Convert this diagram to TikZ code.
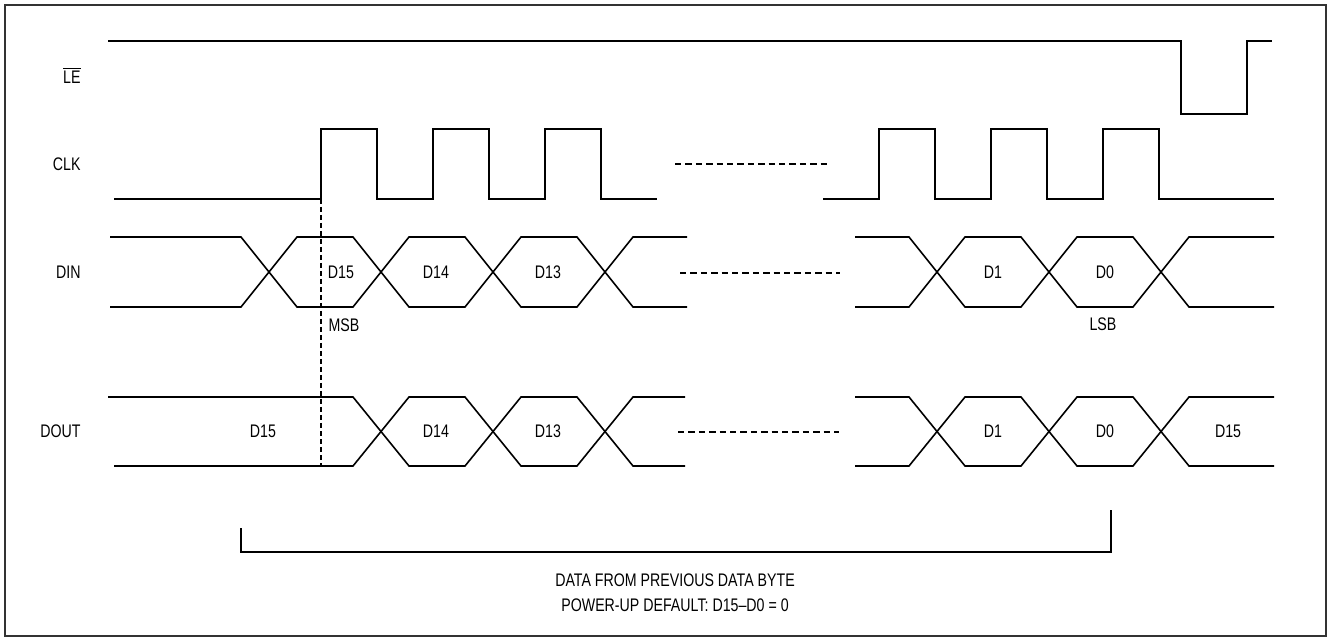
\documentclass[tikz,border=0pt]{standalone}
\usepackage{fontspec}
\setmainfont{Liberation Sans}[FakeStretch=0.78]
\usepackage{tikz}
\usetikzlibrary{positioning}
\tikzstyle{wave} = [line width=0.8pt, line join=miter]
\tikzstyle{gap} = [line width=0.8pt, dash pattern=on 3.2pt off 2pt]
\tikzstyle{frame} = [line width=1.2pt, draw=black!80]
\tikzstyle{lbl} = [inner sep=0pt, font=\fontsize{9.1}{12.5}\selectfont]

\begin{document}
\begin{tikzpicture}[x=0.5pt, y=-0.5pt]
    \useasboundingbox (0,0) rectangle (1331,640);
    \draw [frame] (5,5) rectangle (1326,636);

    % Signal names
    \node (le) [lbl, anchor=east] at (81,75) {$\overline{\mbox{LE}}$};
    \node (clk) [lbl, anchor=east] at (81,164) {CLK};
    \node (din) [lbl, anchor=east] at (81,272) {DIN};
    \node (dout) [lbl, anchor=east] at (81,431) {DOUT};

    % LE
    \draw [wave] (108,41) -- (1181,41) -- (1181,114) -- (1247,114) -- (1247,41) -- (1272,41);

    % CLK
    \draw [wave] (114,199) -- (321,199) -- (321,129) -- (377,129) -- (377,199) -- (433,199) -- (433,129)
        -- (489,129) -- (489,199) -- (545,199) -- (545,129) -- (601,129) -- (601,199) -- (657,199);
    \draw [gap] (675,164) -- (830,164);
    \draw [wave] (823,199) -- (879,199) -- (879,129) -- (935,129) -- (935,199) -- (991,199) -- (991,129)
        -- (1047,129) -- (1047,199) -- (1103,199) -- (1103,129) -- (1159,129) -- (1159,199) -- (1274,199);

    % DIN
    \draw [wave] (110,237) -- (241,237) -- (297,307) -- (353,307) -- (409,237) -- (465,237) -- (521,307)
        -- (577,307) -- (633,237) -- (687,237);
    \draw [wave] (110,307) -- (241,307) -- (297,237) -- (353,237) -- (409,307) -- (465,307) -- (521,237)
        -- (577,237) -- (633,307) -- (687,307);
    \draw [gap] (680,273) -- (840,273);
    \draw [wave] (855,237) -- (909,237) -- (965,307) -- (1021,307) -- (1077,237) -- (1133,237) -- (1189,307) -- (1274,307);
    \draw [wave] (855,307) -- (909,307) -- (965,237) -- (1021,237) -- (1077,307) -- (1133,307) -- (1189,237) -- (1274,237);

    \node (din15) [lbl] at (341,272) {D15};
    \node (din14) [lbl] at (436,272) {D14};
    \node (din13) [lbl] at (548,272) {D13};
    \node (din1) [lbl] at (993,272) {D1};
    \node (din0) [lbl] at (1105,272) {D0};
    \node (msb) [lbl] at (344,325) {MSB};
    \node (lsb) [lbl] at (1103,324) {LSB};

    % DOUT
    \draw [wave] (108,397) -- (353,397) -- (409,466) -- (465,466) -- (521,397) -- (577,397) -- (633,466) -- (685,466);
    \draw [wave] (114,466) -- (353,466) -- (409,397) -- (465,397) -- (521,466) -- (577,466) -- (633,397) -- (685,397);
    \draw [gap] (678,432) -- (839,432);
    \draw [wave] (855,397) -- (909,397) -- (965,466) -- (1021,466) -- (1077,397) -- (1133,397) -- (1189,466) -- (1274,466);
    \draw [wave] (855,466) -- (909,466) -- (965,397) -- (1021,397) -- (1077,466) -- (1133,466) -- (1189,397) -- (1274,397);

    \node (dout15) [lbl] at (263,431) {D15};
    \node (dout14) [lbl] at (436,431) {D14};
    \node (dout13) [lbl] at (548,431) {D13};
    \node (dout1) [lbl] at (993,431) {D1};
    \node (dout0) [lbl] at (1105,431) {D0};
    \node (dnext) [lbl] at (1228,431) {D15};

    % First clock edge
    \draw [line width=0.7pt, dash pattern=on 2.5pt off 1.5pt] (321,199) -- (321,466);

    % Previous byte bracket
    \draw [wave] (241,528) -- (241,552) -- (1111,552) -- (1111,510);
    \node (prev) [lbl, align=center] at (675,593) {DATA FROM PREVIOUS DATA BYTE\\POWER-UP DEFAULT: D15--D0 = 0};
\end{tikzpicture}
\end{document}
